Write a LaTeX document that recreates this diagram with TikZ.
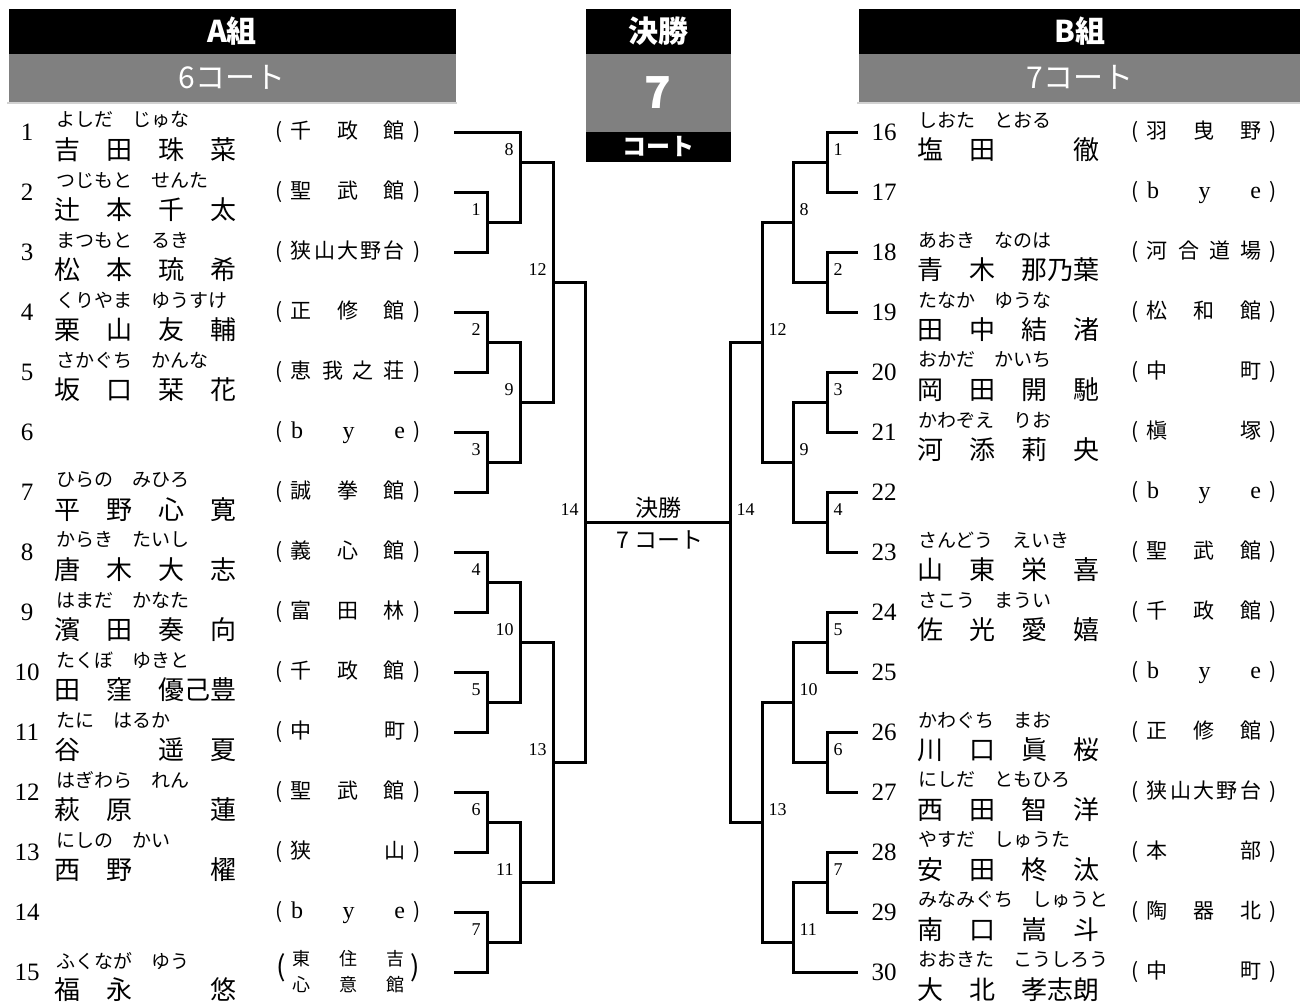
\documentclass[tikz,border=0pt]{standalone}
\usepackage{fontspec}
\newfontfamily\jp{Noto Sans CJK JP}
\newfontfamily\mincho{Liberation Serif}
\newcommand{\ks}[1]{\makebox[52pt]{#1}}
\newcommand{\kw}[1]{\makebox[104pt]{#1}}
\newcommand{\dojo}[1]{\makebox[16pt][l]{(}\makebox[114pt][s]{#1}\makebox[16pt][r]{)}}
\newcommand{\bye}{\mincho\fontsize{24}{24}\selectfont b\hfill y\hfill e}
\begin{document}
\begin{tikzpicture}[x=1pt, y=-1pt, line width=3pt,
  num/.style={font=\mincho\fontsize{25}{25}\selectfont, inner sep=0pt},
  kana/.style={font=\jp\fontsize{19}{19}\selectfont, inner sep=0pt, anchor=west},
  kanji/.style={font=\jp\fontsize{26}{26}\selectfont, inner sep=0pt, anchor=west},
  dojo/.style={font=\jp\fontsize{21}{21}\selectfont, inner sep=0pt},
  mlab/.style={font=\mincho\fontsize{18}{18}\selectfont, inner sep=0pt},
  hdr/.style={fill=black, text=white, inner sep=0pt, anchor=north west, font=\jp\bfseries\fontsize{30}{30}\selectfont},
  sub/.style={fill=gray, text=white, inner sep=0pt, anchor=north west, font=\jp\fontsize{30}{30}\selectfont}]
\useasboundingbox (0,0) rectangle (1300,1005);
% headers
\node[hdr, minimum width=447pt, minimum height=45pt] (hA) at (7,7) {A組};
\node[sub, minimum width=447pt, minimum height=48pt] (gA) at (7,52) {6コート};
\node[hdr, minimum width=145pt, minimum height=45pt] (hF) at (584,7) {決勝};
\node[sub, minimum width=145pt, minimum height=78pt, font=\jp\bfseries\fontsize{44}{44}\selectfont] (gF) at (584,52) {7};
\node[hdr, minimum width=145pt, minimum height=30pt, font=\jp\bfseries\fontsize{24}{24}\selectfont] (cF) at (584,130) {コート};
\node[hdr, minimum width=443pt, minimum height=45pt] (hB) at (857,7) {B組};
\node[sub, minimum width=443pt, minimum height=48pt] (gB) at (857,52) {7コート};
\draw[gray!35, line width=1.5pt] (gA.south west) -- (gA.south east);
\draw[gray!35, line width=1.5pt] (gB.south west) -- (gB.south east);

% A group
\node[num] (n1) at (27,132) {1};
\node[kana] (r1) at (55,120) {よしだ　じゅな};
\node[kanji] (k1) at (40,150) {\ks{吉}\ks{田}\ks{珠}\ks{菜}};
\node[dojo] (c1) at (348,132) {\dojo{千\hfill 政\hfill 館}};
\node[num] (n2) at (27,192) {2};
\node[kana] (r2) at (55,180) {つじもと　せんた};
\node[kanji] (k2) at (40,210) {\ks{辻}\ks{本}\ks{千}\ks{太}};
\node[dojo] (c2) at (348,192) {\dojo{聖\hfill 武\hfill 館}};
\node[num] (n3) at (27,252) {3};
\node[kana] (r3) at (55,240) {まつもと　るき};
\node[kanji] (k3) at (40,270) {\ks{松}\ks{本}\ks{琉}\ks{希}};
\node[dojo] (c3) at (348,252) {\dojo{狭\hfill 山\hfill 大\hfill 野\hfill 台}};
\node[num] (n4) at (27,312) {4};
\node[kana] (r4) at (55,300) {くりやま　ゆうすけ};
\node[kanji] (k4) at (40,330) {\ks{栗}\ks{山}\ks{友}\ks{輔}};
\node[dojo] (c4) at (348,312) {\dojo{正\hfill 修\hfill 館}};
\node[num] (n5) at (27,372) {5};
\node[kana] (r5) at (55,360) {さかぐち　かんな};
\node[kanji] (k5) at (40,390) {\ks{坂}\ks{口}\ks{栞}\ks{花}};
\node[dojo] (c5) at (348,372) {\dojo{恵\hfill 我\hfill 之\hfill 荘}};
\node[num] (n6) at (27,432) {6};
\node[dojo] (c6) at (348,432) {\dojo{\bye}};
\node[num] (n7) at (27,492) {7};
\node[kana] (r7) at (55,480) {ひらの　みひろ};
\node[kanji] (k7) at (40,510) {\ks{平}\ks{野}\ks{心}\ks{寛}};
\node[dojo] (c7) at (348,492) {\dojo{誠\hfill 拳\hfill 館}};
\node[num] (n8) at (27,552) {8};
\node[kana] (r8) at (55,540) {からき　たいし};
\node[kanji] (k8) at (40,570) {\ks{唐}\ks{木}\ks{大}\ks{志}};
\node[dojo] (c8) at (348,552) {\dojo{義\hfill 心\hfill 館}};
\node[num] (n9) at (27,612) {9};
\node[kana] (r9) at (55,600) {はまだ　かなた};
\node[kanji] (k9) at (40,630) {\ks{濱}\ks{田}\ks{奏}\ks{向}};
\node[dojo] (c9) at (348,612) {\dojo{富\hfill 田\hfill 林}};
\node[num] (n10) at (27,672) {10};
\node[kana] (r10) at (55,660) {たくぼ　ゆきと};
\node[kanji] (k10) at (40,690) {\ks{田}\ks{窪}\kw{優己豊}};
\node[dojo] (c10) at (348,672) {\dojo{千\hfill 政\hfill 館}};
\node[num] (n11) at (27,732) {11};
\node[kana] (r11) at (55,720) {たに　はるか};
\node[kanji] (k11) at (40,750) {\ks{谷}\ks{}\ks{遥}\ks{夏}};
\node[dojo] (c11) at (348,732) {\dojo{中\hfill 町}};
\node[num] (n12) at (27,792) {12};
\node[kana] (r12) at (55,780) {はぎわら　れん};
\node[kanji] (k12) at (40,810) {\ks{萩}\ks{原}\ks{}\ks{蓮}};
\node[dojo] (c12) at (348,792) {\dojo{聖\hfill 武\hfill 館}};
\node[num] (n13) at (27,852) {13};
\node[kana] (r13) at (55,840) {にしの　かい};
\node[kanji] (k13) at (40,870) {\ks{西}\ks{野}\ks{}\ks{櫂}};
\node[dojo] (c13) at (348,852) {\dojo{狭\hfill 山}};
\node[num] (n14) at (27,912) {14};
\node[dojo] (c14) at (348,912) {\dojo{\bye}};
\node[num] (n15) at (27,972) {15};
\node[kana] (r15) at (55,961) {ふくなが　ゆう};
\node[kanji] (k15) at (40,990) {\ks{福}\ks{永}\ks{}\ks{悠}};
\node[dojo] (c15) at (348,972) {\makebox[16pt][l]{\fontsize{28}{28}\selectfont(}\fontsize{18}{26}\selectfont$\vcenter{\hbox{\makebox[112pt][s]{東\hfill 住\hfill 吉}}\hbox{\makebox[112pt][s]{心\hfill 意\hfill 館}}}$\makebox[16pt][r]{\fontsize{28}{28}\selectfont)}};

% B group
\node[num] (n16) at (884,132) {16};
\node[kana] (r16) at (917,120) {しおた　とおる};
\node[kanji] (k16) at (903,150) {\ks{塩}\ks{田}\ks{}\ks{徹}};
\node[dojo] (c16) at (1204,132) {\dojo{羽\hfill 曳\hfill 野}};
\node[num] (n17) at (884,192) {17};
\node[dojo] (c17) at (1204,192) {\dojo{\bye}};
\node[num] (n18) at (884,252) {18};
\node[kana] (r18) at (917,240) {あおき　なのは};
\node[kanji] (k18) at (903,270) {\ks{青}\ks{木}\kw{那乃葉}};
\node[dojo] (c18) at (1204,252) {\dojo{河\hfill 合\hfill 道\hfill 場}};
\node[num] (n19) at (884,312) {19};
\node[kana] (r19) at (917,300) {たなか　ゆうな};
\node[kanji] (k19) at (903,330) {\ks{田}\ks{中}\ks{結}\ks{渚}};
\node[dojo] (c19) at (1204,312) {\dojo{松\hfill 和\hfill 館}};
\node[num] (n20) at (884,372) {20};
\node[kana] (r20) at (917,360) {おかだ　かいち};
\node[kanji] (k20) at (903,390) {\ks{岡}\ks{田}\ks{開}\ks{馳}};
\node[dojo] (c20) at (1204,372) {\dojo{中\hfill 町}};
\node[num] (n21) at (884,432) {21};
\node[kana] (r21) at (917,420) {かわぞえ　りお};
\node[kanji] (k21) at (903,450) {\ks{河}\ks{添}\ks{莉}\ks{央}};
\node[dojo] (c21) at (1204,432) {\dojo{槇\hfill 塚}};
\node[num] (n22) at (884,492) {22};
\node[dojo] (c22) at (1204,492) {\dojo{\bye}};
\node[num] (n23) at (884,552) {23};
\node[kana] (r23) at (917,540) {さんどう　えいき};
\node[kanji] (k23) at (903,570) {\ks{山}\ks{東}\ks{栄}\ks{喜}};
\node[dojo] (c23) at (1204,552) {\dojo{聖\hfill 武\hfill 館}};
\node[num] (n24) at (884,612) {24};
\node[kana] (r24) at (917,600) {さこう　まうい};
\node[kanji] (k24) at (903,630) {\ks{佐}\ks{光}\ks{愛}\ks{嬉}};
\node[dojo] (c24) at (1204,612) {\dojo{千\hfill 政\hfill 館}};
\node[num] (n25) at (884,672) {25};
\node[dojo] (c25) at (1204,672) {\dojo{\bye}};
\node[num] (n26) at (884,732) {26};
\node[kana] (r26) at (917,720) {かわぐち　まお};
\node[kanji] (k26) at (903,750) {\ks{川}\ks{口}\ks{眞}\ks{桜}};
\node[dojo] (c26) at (1204,732) {\dojo{正\hfill 修\hfill 館}};
\node[num] (n27) at (884,792) {27};
\node[kana] (r27) at (917,780) {にしだ　ともひろ};
\node[kanji] (k27) at (903,810) {\ks{西}\ks{田}\ks{智}\ks{洋}};
\node[dojo] (c27) at (1204,792) {\dojo{狭\hfill 山\hfill 大\hfill 野\hfill 台}};
\node[num] (n28) at (884,852) {28};
\node[kana] (r28) at (917,840) {やすだ　しゅうた};
\node[kanji] (k28) at (903,870) {\ks{安}\ks{田}\ks{柊}\ks{汰}};
\node[dojo] (c28) at (1204,852) {\dojo{本\hfill 部}};
\node[num] (n29) at (884,912) {29};
\node[kana] (r29) at (917,900) {みなみぐち　しゅうと};
\node[kanji] (k29) at (903,930) {\ks{南}\ks{口}\ks{嵩}\ks{斗}};
\node[dojo] (c29) at (1204,912) {\dojo{陶\hfill 器\hfill 北}};
\node[num] (n30) at (884,972) {30};
\node[kana] (r30) at (917,960) {おおきた　こうしろう};
\node[kanji] (k30) at (903,990) {\ks{大}\ks{北}\kw{孝志朗}};
\node[dojo] (c30) at (1204,972) {\dojo{中\hfill 町}};

% line ends
\coordinate (a1) at (454,132);  \coordinate (a2) at (454,192);  \coordinate (a3) at (454,252);
\coordinate (a4) at (454,312);  \coordinate (a5) at (454,372);  \coordinate (a6) at (454,432);
\coordinate (a7) at (454,492);  \coordinate (a8) at (454,552);  \coordinate (a9) at (454,612);
\coordinate (a10) at (454,672); \coordinate (a11) at (454,732); \coordinate (a12) at (454,792);
\coordinate (a13) at (454,852); \coordinate (a14) at (454,912); \coordinate (a15) at (454,972);
\coordinate (b16) at (858,132); \coordinate (b17) at (858,192); \coordinate (b18) at (858,252);
\coordinate (b19) at (858,312); \coordinate (b20) at (858,372); \coordinate (b21) at (858,432);
\coordinate (b22) at (858,492); \coordinate (b23) at (858,552); \coordinate (b24) at (858,612);
\coordinate (b25) at (858,672); \coordinate (b26) at (858,732); \coordinate (b27) at (858,792);
\coordinate (b28) at (858,852); \coordinate (b29) at (858,912); \coordinate (b30) at (858,972);

% matches
\coordinate (LM1) at (487,222); \coordinate (LM2) at (487,342); \coordinate (LM3) at (487,462);
\coordinate (LM4) at (487,582); \coordinate (LM5) at (487,702); \coordinate (LM6) at (487,822);
\coordinate (LM7) at (487,942); \coordinate (LM8) at (520,162); \coordinate (LM9) at (520,402);
\coordinate (LM10) at (520,642); \coordinate (LM11) at (520,882); \coordinate (LM12) at (553,282);
\coordinate (LM13) at (553,762); \coordinate (LM14) at (585,522);
\coordinate (RM1) at (827,162); \coordinate (RM2) at (827,282); \coordinate (RM3) at (827,402);
\coordinate (RM4) at (827,522); \coordinate (RM5) at (827,642); \coordinate (RM6) at (827,762);
\coordinate (RM7) at (827,882); \coordinate (RM8) at (793,222); \coordinate (RM9) at (793,462);
\coordinate (RM10) at (793,702); \coordinate (RM11) at (793,942); \coordinate (RM12) at (762,342);
\coordinate (RM13) at (762,822); \coordinate (RM14) at (730,522);

\draw (a2) -| (LM1) |- (a3);
\draw (a4) -| (LM2) |- (a5);
\draw (a6) -| (LM3) |- (a7);
\draw (a8) -| (LM4) |- (a9);
\draw (a10) -| (LM5) |- (a11);
\draw (a12) -| (LM6) |- (a13);
\draw (a14) -| (LM7) |- (a15);
\draw (a1) -| (LM8) |- (LM1);
\draw (LM2) -| (LM9) |- (LM3);
\draw (LM4) -| (LM10) |- (LM5);
\draw (LM6) -| (LM11) |- (LM7);
\draw (LM8) -| (LM12) |- (LM9);
\draw (LM10) -| (LM13) |- (LM11);
\draw (LM12) -| (LM14) |- (LM13);
\draw (b16) -| (RM1) |- (b17);
\draw (b18) -| (RM2) |- (b19);
\draw (b20) -| (RM3) |- (b21);
\draw (b22) -| (RM4) |- (b23);
\draw (b24) -| (RM5) |- (b25);
\draw (b26) -| (RM6) |- (b27);
\draw (b28) -| (RM7) |- (b29);
\draw (RM1) -| (RM8) |- (RM2);
\draw (RM3) -| (RM9) |- (RM4);
\draw (RM5) -| (RM10) |- (RM6);
\draw (RM7) -| (RM11) |- (b30);
\draw (RM8) -| (RM12) |- (RM9);
\draw (RM10) -| (RM13) |- (RM11);
\draw (RM12) -| (RM14) |- (RM13);
\draw (LM14) -- (RM14);

% match numbers
\begin{scope}[every node/.style={mlab, anchor=south east}]
\node (l1) at ([xshift=-5pt,yshift=5pt]LM1) {1};
\node (l2) at ([xshift=-5pt,yshift=5pt]LM2) {2};
\node (l3) at ([xshift=-5pt,yshift=5pt]LM3) {3};
\node (l4) at ([xshift=-5pt,yshift=5pt]LM4) {4};
\node (l5) at ([xshift=-5pt,yshift=5pt]LM5) {5};
\node (l6) at ([xshift=-5pt,yshift=5pt]LM6) {6};
\node (l7) at ([xshift=-5pt,yshift=5pt]LM7) {7};
\node (l8) at ([xshift=-5pt,yshift=5pt]LM8) {8};
\node (l9) at ([xshift=-5pt,yshift=5pt]LM9) {9};
\node (l10) at ([xshift=-5pt,yshift=5pt]LM10) {10};
\node (l11) at ([xshift=-5pt,yshift=5pt]LM11) {11};
\node (l12) at ([xshift=-5pt,yshift=5pt]LM12) {12};
\node (l13) at ([xshift=-5pt,yshift=5pt]LM13) {13};
\node (l14) at ([xshift=-5pt,yshift=5pt]LM14) {14};
\end{scope}
\begin{scope}[every node/.style={mlab, anchor=south west}]
\node (q1) at ([xshift=5pt,yshift=5pt]RM1) {1};
\node (q2) at ([xshift=5pt,yshift=5pt]RM2) {2};
\node (q3) at ([xshift=5pt,yshift=5pt]RM3) {3};
\node (q4) at ([xshift=5pt,yshift=5pt]RM4) {4};
\node (q5) at ([xshift=5pt,yshift=5pt]RM5) {5};
\node (q6) at ([xshift=5pt,yshift=5pt]RM6) {6};
\node (q7) at ([xshift=5pt,yshift=5pt]RM7) {7};
\node (q8) at ([xshift=5pt,yshift=5pt]RM8) {8};
\node (q9) at ([xshift=5pt,yshift=5pt]RM9) {9};
\node (q10) at ([xshift=5pt,yshift=5pt]RM10) {10};
\node (q11) at ([xshift=5pt,yshift=5pt]RM11) {11};
\node (q12) at ([xshift=5pt,yshift=5pt]RM12) {12};
\node (q13) at ([xshift=5pt,yshift=5pt]RM13) {13};
\node (q14) at ([xshift=5pt,yshift=5pt]RM14) {14};
\end{scope}
\node[font=\jp\fontsize{23}{23}\selectfont, inner sep=0pt] (fin1) at (658,508) {決勝};
\node[font=\jp\fontsize{23}{23}\selectfont, inner sep=0pt] (fin2) at (660,540) {7 コート};
\end{tikzpicture}
\end{document}
